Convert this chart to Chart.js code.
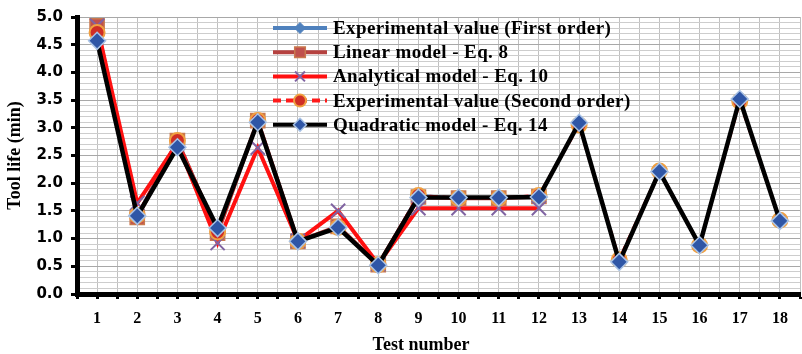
<!DOCTYPE html>
<html>
<head>
<meta charset="utf-8">
<script src="https://cdn.jsdelivr.net/npm/chart.js@4/dist/chart.umd.min.js"></script>
<style>
  html, body { margin: 0; padding: 0; background: #fff; overflow: hidden; }
  #wrap { width: 802px; height: 354px; overflow: hidden; }
</style>
</head>
<body>
<div id="wrap"><canvas id="lifeChart" width="812" height="354"></canvas></div>
<script>
// tool life per test (min)
const tests = [1, 2, 3, 4, 5, 6, 7, 8, 9, 10, 11, 12, 13, 14, 15, 16, 17, 18];
const expFirst = [4.72, 1.42, 2.77, 1.12, 3.13, 0.95, 1.20, 0.53, 1.78, 1.73, 1.73, 1.78];
const linearEq8 = [4.84, 1.38, 2.77, 1.10, 3.13, 0.95, 1.22, 0.53, 1.75, 1.73, 1.73, 1.76];
const analyticalEq10 = [4.84, 1.64, 2.72, 0.92, 2.64, 0.96, 1.50, 0.54, 1.55, 1.55, 1.55, 1.55];
const expSecond = [4.72, 1.42, 2.77, 1.12, 3.13, 0.95, 1.20, 0.53, 1.78, 1.73, 1.73, 1.78,
                   3.05, 0.62, 2.22, 0.88, 3.48, 1.33];
const quadraticEq14 = [4.57, 1.41, 2.65, 1.19, 3.10, 0.95, 1.20, 0.52, 1.74, 1.74, 1.74, 1.75,
                       3.09, 0.58, 2.21, 0.88, 3.52, 1.32];

const yTicks = [0, 0.5, 1, 1.5, 2, 2.5, 3, 3.5, 4, 4.5, 5];

const serif = '"Liberation Serif", "Times New Roman", serif';

function pts(vals) {
  return vals.map((v, i) => ({ x: tests[i], y: v }));
}

// legend drawn inside the plot, over the grid
const innerLegend = {
  id: 'innerLegend',
  afterDraw(chart) {
    const ctx = chart.ctx;
    const sizes = [5.5, 7.5, 7, 6, 6.5];
    ctx.save();
    chart.data.datasets.forEach((ds, i) => {
      const y = 28 + i * 24.2;
      ctx.strokeStyle = ds.borderColor;
      ctx.lineWidth = 4;
      ctx.setLineDash(ds.borderDash || []);
      ctx.beginPath();
      ctx.moveTo(273, y);
      ctx.lineTo(327, y);
      ctx.stroke();
      ctx.setLineDash([]);
      ctx.fillStyle = ds.pointBackgroundColor;
      ctx.strokeStyle = ds.pointBorderColor;
      ctx.lineWidth = ds.pointBorderWidth;
      Chart.helpers.drawPoint(ctx, {
        pointStyle: ds.pointStyle, radius: sizes[i], rotation: 0, borderWidth: ds.pointBorderWidth
      }, 300, y);
      ctx.fillStyle = '#000';
      ctx.font = 'bold 19px ' + serif;
      ctx.letterSpacing = '0.4px';
      ctx.textBaseline = 'middle';
      ctx.textAlign = 'left';
      ctx.fillText(ds.label, 333, y + 1);
    });
    // x axis title
    ctx.letterSpacing = '0px';
    ctx.font = 'bold 18px ' + serif;
    ctx.textAlign = 'center';
    ctx.textBaseline = 'middle';
    ctx.fillText('Test number', 421, 345);
    ctx.restore();
  }
};

new Chart(document.getElementById('lifeChart'), {
  type: 'line',
  data: {
    datasets: [
      {
        label: 'Experimental value (First order)',
        data: pts(expFirst),
        borderColor: '#4f81bd', borderWidth: 3,
        pointStyle: 'rectRot', pointRadius: 6,
        pointBackgroundColor: '#4f81bd', pointBorderColor: '#4f81bd', pointBorderWidth: 1,
        order: 4
      },
      {
        label: 'Linear model - Eq. 8',
        data: pts(linearEq8),
        borderColor: '#b5413f', borderWidth: 4,
        pointStyle: 'rect', pointRadius: 10,
        pointBackgroundColor: '#c0504d', pointBorderColor: '#c9794e', pointBorderWidth: 1.5,
        order: 3
      },
      {
        label: 'Analytical model - Eq. 10',
        data: pts(analyticalEq10),
        borderColor: '#ff1010', borderWidth: 4,
        pointStyle: 'crossRot', pointRadius: 10,
        pointBackgroundColor: '#8064a2', pointBorderColor: '#8064a2', pointBorderWidth: 2,
        order: 2
      },
      {
        label: 'Experimental value (Second order)',
        data: pts(expSecond),
        borderColor: '#ff1a1a', borderWidth: 3, borderDash: [8, 5],
        pointStyle: 'circle', pointRadius: 7.5,
        pointBackgroundColor: '#cf2e26', pointBorderColor: '#f0a040', pointBorderWidth: 2,
        order: 1
      },
      {
        label: 'Quadratic model - Eq. 14',
        data: pts(quadraticEq14),
        borderColor: '#000000', borderWidth: 4.5,
        pointStyle: 'rectRot', pointRadius: 8.5,
        pointBackgroundColor: '#2f56a6', pointBorderColor: '#a9c3e6', pointBorderWidth: 1.5,
        order: 0
      }
    ]
  },
  options: {
    responsive: false,
    animation: false,
    layout: { padding: { top: 16, right: 0, left: 0, bottom: 0 } },
    plugins: { legend: { display: false }, tooltip: { enabled: false } },
    scales: {
      x: {
        type: 'linear',
        min: 0.5,
        max: 18.5,
        afterBuildTicks(scale) {
          const t = [];
          tests.forEach(n => { t.push({ value: n - 0.5 }); t.push({ value: n }); });
          t.push({ value: tests[tests.length - 1] + 0.5 });
          scale.ticks = t;
        },
        afterFit(scale) { scale.height = 60; },
        ticks: {
          autoSkip: false, maxRotation: 0, padding: 10, color: '#000',
          font: { family: serif, weight: 'bold', size: 16 },
          callback: v => Number.isInteger(v) ? String(v) : ''
        },
        grid: {
          color: '#c0c0c0', lineWidth: 1, tickLength: 5,
          tickColor: '#000', tickWidth: 3
        },
        border: { color: '#000', width: 5 }
      },
      y: {
        min: 0,
        max: 5,
        afterBuildTicks(scale) {
          const t = [];
          for (let k = 0; k <= 50; k++) t.push({ value: k / 10 });
          scale.ticks = t;
        },
        afterFit(scale) { scale.width = 77; },
        ticks: {
          autoSkip: false, padding: 8, color: '#000',
          font: { family: '"DejaVu Sans", Verdana, sans-serif', weight: 'bold', size: 15 },
          callback: v => yTicks.some(m => Math.abs(m - v) < 1e-6) ? v.toFixed(1) : ''
        },
        grid: {
          color: ctx => (Math.round(ctx.tick.value * 10) % 5 === 0) ? '#a8a8a8' : '#cdcdcd',
          lineWidth: 1, tickLength: 6, tickWidth: 3,
          tickColor: ctx => (Math.round(ctx.tick.value * 10) % 5 === 0) ? '#000' : 'rgba(0,0,0,0)'
        },
        border: { color: '#000', width: 5 },
        title: {
          display: true, text: 'Tool life (min)', color: '#000',
          font: { family: serif, weight: 'bold', size: 18 },
          padding: { top: 5, bottom: 0 }
        }
      }
    }
  },
  plugins: [innerLegend]
});
</script>
</body>
</html>
